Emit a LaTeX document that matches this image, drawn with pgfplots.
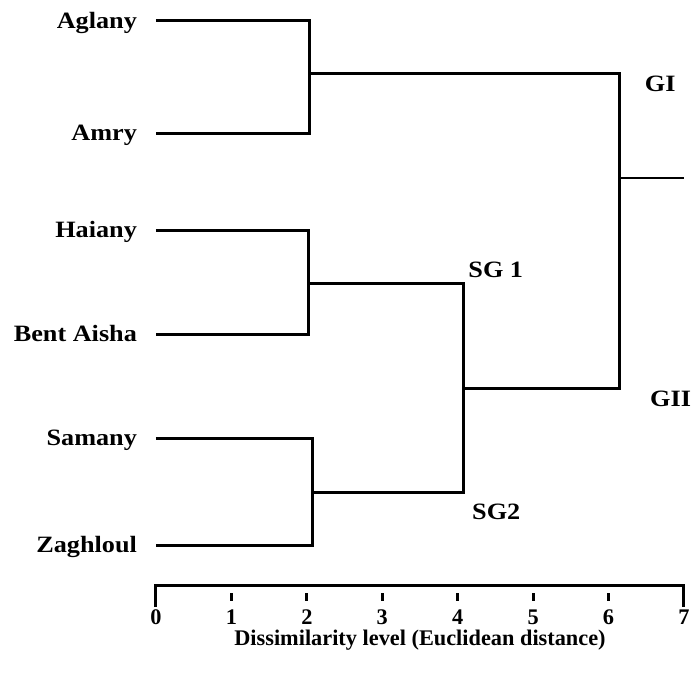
\documentclass[border=0pt]{standalone}
\usepackage{fontspec}
\setmainfont{Liberation Serif}
\usepackage{graphicx}
\usepackage{pgfplots}
\pgfplotsset{compat=1.18}
\begin{document}
\begin{tikzpicture}
\tikzset{dl/.style={black, line width=3bp, mark=none, line join=miter, solid},
         lab/.style={font=\fontsize{23.5}{23.5}\selectfont\bfseries, inner sep=0pt},
         tl/.style={font=\fontsize{22.4}{22.4}\selectfont\bfseries, inner sep=0pt}}
\begin{axis}[
  width=694bp, height=673bp, scale only axis,
  xmin=-2.068, xmax=7.133, ymin=0, ymax=673, y dir=reverse,
  hide axis, clip=false, unbounded coords=jump,
]
\draw[draw=none] (rel axis cs:0,0) rectangle (rel axis cs:1,1);
% dendrogram
\addplot[dl] coordinates {(0,21) (2.03,21) (2.03,133) (0,133)};
\addplot[dl] coordinates {(0,230) (2.02,230) (2.02,334) (0,334)};
\addplot[dl] coordinates {(0,438) (2.07,438) (2.07,545) (0,545)};
\addplot[dl] coordinates {(2.02,283) (4.08,283) (4.08,492) (2.07,492)};
\addplot[dl] coordinates {(2.03,74) (6.15,74) (6.15,388) (4.08,388)};
\addplot[dl, line width=2.4bp] coordinates {(6.15,178) (7.0,178)};
% ruler
\addplot[dl] coordinates {(0,607) (0,585) (7,585) (7,607)};
\addplot[dl] coordinates {(1,593) (1,601) (1,nan) (2,593) (2,601) (2,nan) (3,593) (3,601) (3,nan) (4,593) (4,601) (4,nan) (5,593) (5,601) (5,nan) (6,593) (6,601)};
% labels
\node[lab, anchor=base east, yshift=-7.6bp] at (axis cs:-0.25,21) {\scalebox{1.12}[1]{Aglany}};
\node[lab, anchor=base east, yshift=-7.6bp] at (axis cs:-0.25,133) {\scalebox{1.12}[1]{Amry}};
\node[lab, anchor=base east, yshift=-7.6bp] at (axis cs:-0.25,230) {\scalebox{1.12}[1]{Haiany}};
\node[lab, anchor=base east, yshift=-7.6bp] at (axis cs:-0.25,334) {\scalebox{1.12}[1]{Bent Aisha}};
\node[lab, anchor=base east, yshift=-7.6bp] at (axis cs:-0.25,438) {\scalebox{1.12}[1]{Samany}};
\node[lab, anchor=base east, yshift=-7.6bp] at (axis cs:-0.25,545) {\scalebox{1.12}[1]{Zaghloul}};
\node[lab, anchor=west] at (axis cs:6.48,84) {\scalebox{1.12}[1]{GI}};
\node[lab, anchor=west] at (axis cs:6.55,399) {\scalebox{1.12}[1]{GII}};
\node[lab, anchor=west] at (axis cs:4.14,270) {\scalebox{1.12}[1]{SG 1}};
\node[lab, anchor=west] at (axis cs:4.19,512) {\scalebox{1.12}[1]{SG2}};
\pgfplotsinvokeforeach{0,...,7}{\node[tl, anchor=base] at (axis cs:#1,624) {#1};}
\node[tl, anchor=base] at (axis cs:3.5,645) {Dissimilarity level (Euclidean distance)};
\end{axis}
\end{tikzpicture}
\end{document}
